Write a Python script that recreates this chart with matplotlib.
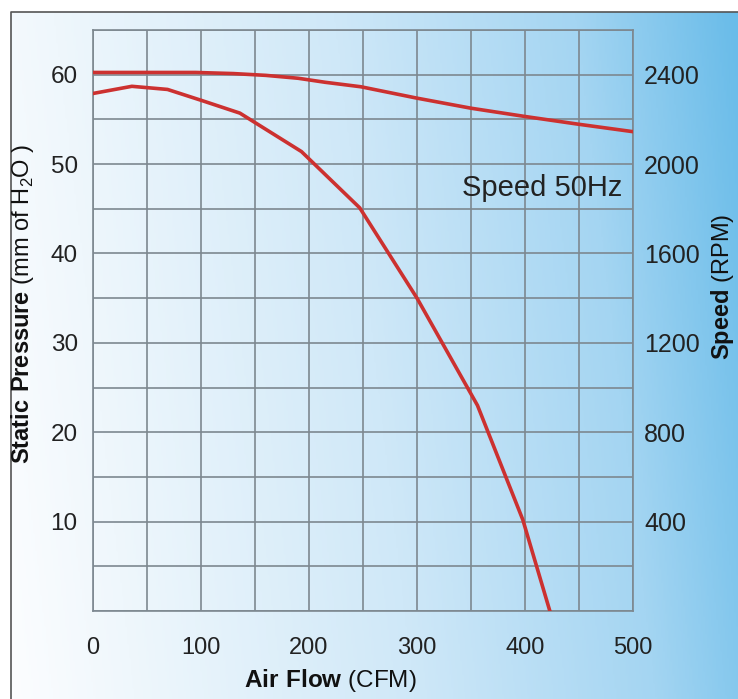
import numpy as np
import matplotlib
matplotlib.use("Agg")
import matplotlib.pyplot as plt
from matplotlib.colors import LinearSegmentedColormap

plt.rcParams["font.family"] = ["Liberation Sans", "DejaVu Sans"]
plt.rcParams["mathtext.fontset"] = "custom"
plt.rcParams["mathtext.rm"] = "Liberation Sans"
plt.rcParams["mathtext.bf"] = "Liberation Sans:bold"

# pressure curve (left axis, mm H2O)
flow_p = [0, 36, 69, 101, 136, 193, 247, 300, 356, 398, 423]
pressure = [57.9, 58.7, 58.35, 57.1, 55.7, 51.4, 45.1, 35.0, 23.0, 10.2, 0.0]

# speed curve (right axis, RPM)
flow_s = [0, 95, 130, 160, 190, 215, 248, 300, 350, 400, 450, 500]
speed = [2410, 2410, 2405, 2397, 2384, 2366, 2346, 2295, 2250, 2213, 2178, 2145]

x_ticks = [0, 100, 200, 300, 400, 500]
p_ticks = [10, 20, 30, 40, 50, 60]
s_ticks = [400, 800, 1200, 1600, 2000, 2400]

W, H = 738, 699
RED = "#cc3130"
GRID = "#7d8890"
TXT = "#222222"

fig = plt.figure(figsize=(W / 100, H / 100), dpi=100)
fig.patch.set_facecolor("white")

# gradient background inside the frame
bg = fig.add_axes([0, 0, 1, 1], zorder=0)
bg.set_xlim(0, W)
bg.set_ylim(H, 0)
bg.axis("off")
cmap = LinearSegmentedColormap.from_list(
    "sky", [(0, "#fcfdff"), (0.15, "#eff7fc"), (0.5, "#cfe8f8"),
            (0.8, "#a4d5f2"), (1, "#69bce9")])
gx, gy = np.meshgrid(np.linspace(0, 1, 400), np.linspace(0, 1, 200))
grad = 0.9 * gx + 0.1 * (1 - gy)
bg.imshow(grad, cmap=cmap, extent=[11, W, H, 12], aspect="auto", vmin=0, vmax=1)
bg.plot([11, 11, W], [H, 12, 12], color="#555555", lw=1.2)

x0, x1, y0, y1 = 93, 633, 30, 611
ax = fig.add_axes([x0 / W, 1 - y1 / H, (x1 - x0) / W, (y1 - y0) / H], zorder=1)
ax.patch.set_alpha(0)
ax.set_xlim(0, 500)
ax.set_ylim(0, 65)
ax.set_xticks(np.arange(0, 501, 50))
ax.set_xticklabels([str(v) if v in x_ticks else "" for v in range(0, 501, 50)])
ax.set_yticks(np.arange(0, 66, 5))
ax.set_yticklabels([str(v) if v in p_ticks else "" for v in range(0, 66, 5)])
ax.grid(True, color=GRID, lw=1.2)
ax.set_axisbelow(True)
for s in ax.spines.values():
    s.set_color(GRID)
    s.set_linewidth(1.2)
ax.tick_params(axis="x", length=0, pad=19, labelsize=17, labelcolor=TXT)
ax.tick_params(axis="y", length=0, pad=11, labelsize=17.5, labelcolor=TXT)
ax.plot(flow_p, pressure, color=RED, lw=2.6, solid_joinstyle="round", zorder=3)

ax2 = ax.twinx()
ax2.set_ylim(0, 2600)
ax2.set_yticks(s_ticks)
ax2.tick_params(axis="y", length=0, pad=8, labelsize=18, labelcolor=TXT)
for s in ax2.spines.values():
    s.set_visible(False)
ax2.plot(flow_s, speed, color=RED, lw=2.6, solid_joinstyle="round", zorder=3)

ax.text(490, 47.3, "Speed 50Hz", ha="right", va="center", fontsize=21, color=TXT)

fig.text(330 / W, 1 - 681 / H, r"$\bf{Air\ Flow}$ (CFM)", ha="center", va="center",
         fontsize=17.5, color="#111111")
fig.text(23 / W, 1 - 304 / H, r"$\bf{Static\ Pressure}$ (mm of H$_2$O )", ha="center",
         va="center", rotation=90, fontsize=17, color="#111111")
fig.text(723 / W, 1 - 287 / H, r"$\bf{Speed}$ (RPM)", ha="center", va="center",
         rotation=90, fontsize=17, color="#111111")

fig.savefig("out.png", dpi=100)
